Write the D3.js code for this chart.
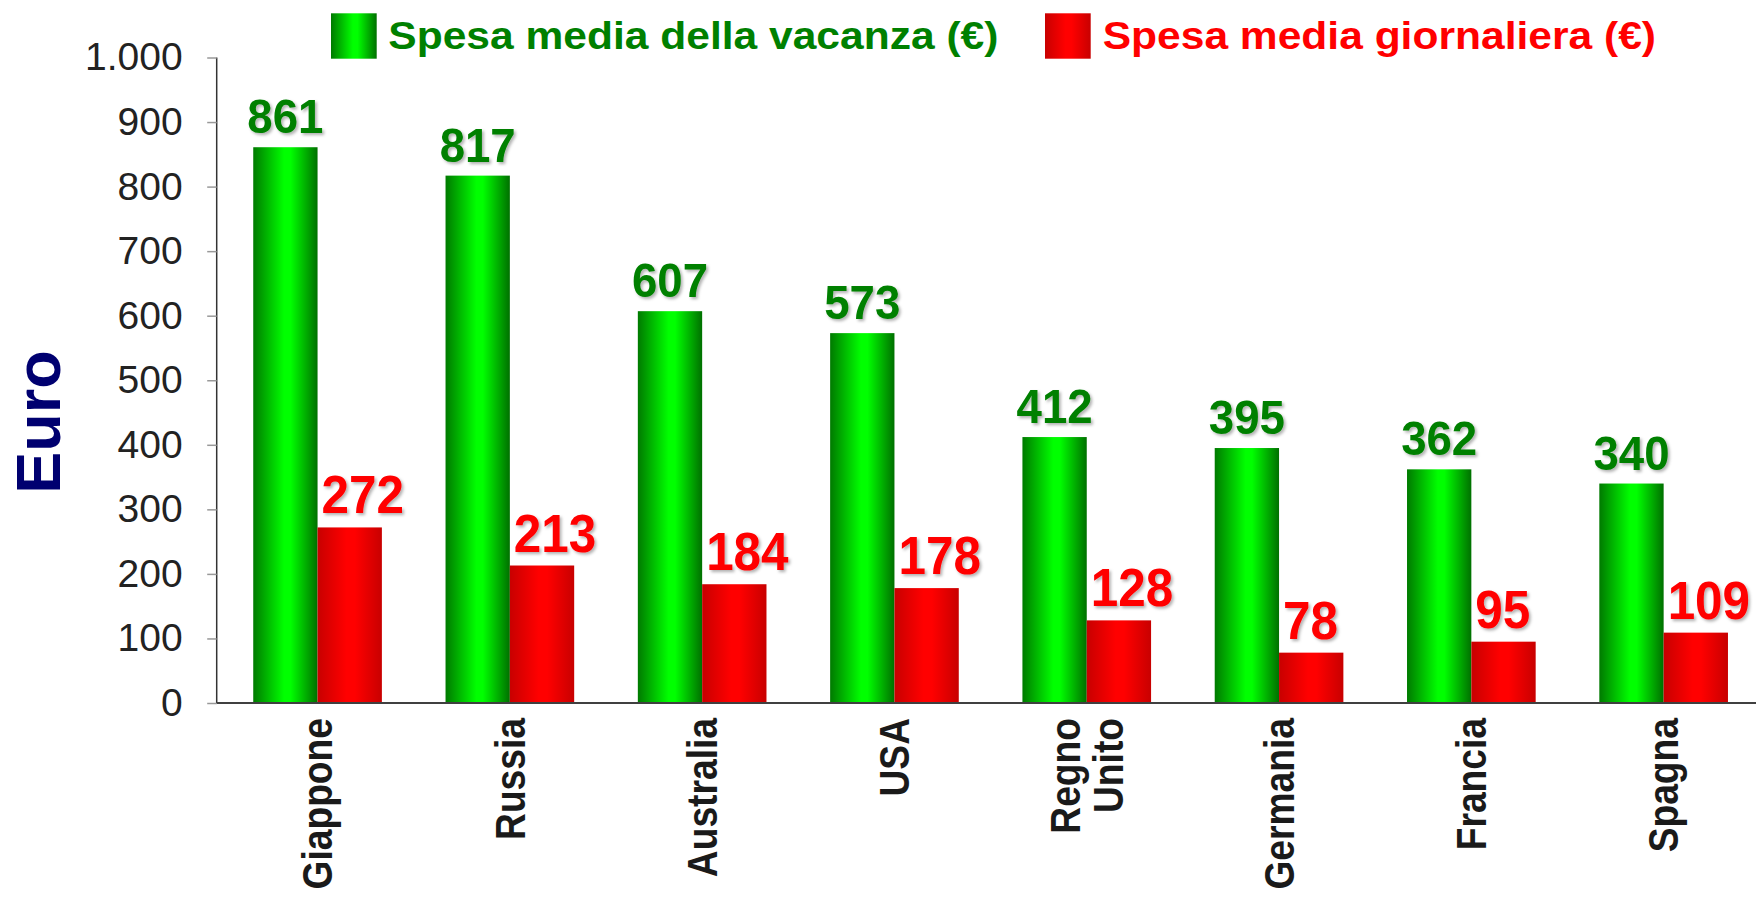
<!DOCTYPE html>
<html>
<head>
<meta charset="utf-8">
<script src="https://cdn.jsdelivr.net/npm/d3@7"></script>
<style>
  html, body { margin: 0; padding: 0; background: #ffffff; }
  svg { display: block; font-family: "Liberation Sans", Arial, Helvetica, sans-serif; }
</style>
</head>
<body>
<svg id="chart" width="1756" height="898"></svg>
<script>
// ---- data ----
const categories = ["Giappone", "Russia", "Australia", "USA", "Regno Unito", "Germania", "Francia", "Spagna"];
const spesaVacanza = [861, 817, 607, 573, 412, 395, 362, 340];
const spesaGiornaliera = [272, 213, 184, 178, 128, 78, 95, 109];
const seriesNames = ["Spesa media della vacanza (€)", "Spesa media giornaliera (€)"];
const yTicks = [0, 100, 200, 300, 400, 500, 600, 700, 800, 900, 1000];
const yTitle = "Euro";

// ---- setup ----
const svg = d3.select("#chart");
const W = 1756, H = 898;
const axisX = 216.7, baseY = 703, topY = 57.5;

const locale = d3.formatLocale({ decimal: ",", thousands: ".", grouping: [3], currency: ["€", ""] });
const fmt = locale.format(",d");

const y = d3.scaleLinear().domain([0, 1000]).range([baseY, topY]);
const x = d3.scaleBand().domain(categories)
  .range([axisX, 1764.5]).paddingInner(0.331).paddingOuter(0.19);
const xs = d3.scaleBand().domain([0, 1]).range([0, x.bandwidth()]);

// ---- defs ----
const defs = svg.append("defs");
function grad(id, stops) {
  const g = defs.append("linearGradient").attr("id", id)
    .attr("x1", "0%").attr("x2", "100%").attr("y1", "0%").attr("y2", "0%");
  stops.forEach(s => g.append("stop").attr("offset", s[0]).attr("stop-color", s[1]));
}
grad("gGreen", [["0%", "#007a00"], ["48%", "#00ff00"], ["58%", "#00ff00"], ["100%", "#007000"]]);
grad("gRed", [["0%", "#c80000"], ["45%", "#ff0000"], ["58%", "#ff0000"], ["100%", "#c80000"]]);
const f = defs.append("filter").attr("id", "shadow")
  .attr("x", "-20%").attr("y", "-20%").attr("width", "150%").attr("height", "150%");
f.append("feDropShadow").attr("dx", 2).attr("dy", 2).attr("stdDeviation", 1.5)
  .attr("flood-color", "#000").attr("flood-opacity", 0.3);

const fills = ["url(#gGreen)", "url(#gRed)"];
const labelColors = ["#008000", "#ff0000"];

// ---- bars ----
const groups = svg.append("g").selectAll("g").data(categories).join("g")
  .attr("transform", d => `translate(${x(d)},0)`);

groups.append("rect")
  .attr("x", xs(0)).attr("width", xs.bandwidth())
  .attr("y", (d, i) => y(spesaVacanza[i]))
  .attr("height", (d, i) => y(0) - y(spesaVacanza[i]))
  .attr("fill", fills[0]);

groups.append("rect")
  .attr("x", xs(1)).attr("width", xs.bandwidth())
  .attr("y", (d, i) => y(spesaGiornaliera[i]))
  .attr("height", (d, i) => y(0) - y(spesaGiornaliera[i]))
  .attr("fill", fills[1]);

// ---- value labels ----
groups.append("text")
  .attr("transform", (d, i) => `translate(${xs(0) + xs.bandwidth() / 2},${y(spesaVacanza[i]) - 14}) scale(0.97,1.04)`)
  .attr("text-anchor", "middle")
  .attr("font-weight", "bold").attr("font-size", 47)
  .attr("fill", labelColors[0]).attr("filter", "url(#shadow)")
  .text((d, i) => spesaVacanza[i]);

groups.append("text")
  .attr("transform", (d, i) => `translate(${xs(1) + 4},${y(spesaGiornaliera[i]) - 14}) scale(0.95,1.04)`)
  .attr("text-anchor", "start")
  .attr("font-weight", "bold").attr("font-size", 52)
  .attr("fill", labelColors[1]).attr("filter", "url(#shadow)")
  .text((d, i) => spesaGiornaliera[i]);

// ---- y axis ----
const yAxis = svg.append("g").attr("transform", `translate(${axisX},0)`)
  .call(d3.axisLeft(y).tickValues(yTicks).tickFormat(fmt).tickSize(9.5).tickPadding(24.5));
yAxis.select(".domain").attr("stroke", "#333").attr("stroke-width", 1.5)
  .attr("d", `M0,${y(1000)}V${y(0)}`);
yAxis.selectAll(".tick line").attr("stroke", "#999").attr("stroke-width", 1.5);
yAxis.selectAll(".tick text").attr("font-size", 39).attr("fill", "#222")
  .attr("font-family", "'Liberation Sans', Arial, sans-serif");

// ---- x axis ----
const xAxis = svg.append("g").attr("transform", `translate(0,${baseY})`)
  .call(d3.axisBottom(x).tickSize(0));
xAxis.select(".domain").attr("stroke", "#404040").attr("stroke-width", 2)
  .attr("d", `M${axisX},0H${W}`);
xAxis.selectAll(".tick text").each(function (d) {
  const t = d3.select(this);
  const lines = d.split(" ");
  const lh = 1.0;
  t.text(null)
    .attr("y", null).attr("dy", null)
    .attr("transform", "translate(0,15) rotate(-90) scale(0.93,1.06)")
    .attr("text-anchor", "end")
    .attr("font-size", 40).attr("font-weight", "bold").attr("fill", "#1a1a1a")
    .attr("font-family", "'Liberation Sans', Arial, sans-serif");
  lines.forEach((ln, k) => {
    t.append("tspan").attr("x", 0)
      .attr("dy", k === 0 ? `${0.35 - (lines.length - 1) * lh / 2}em` : `${lh}em`)
      .text(ln);
  });
});

// ---- y title ----
svg.append("text")
  .attr("transform", `translate(60,422) rotate(-90)`)
  .attr("text-anchor", "middle")
  .attr("font-size", 63).attr("font-weight", "bold").attr("fill", "#000070")
  .text(yTitle);

// ---- legend ----
const legendPos = [{ sx: 331, tx: 388.3 }, { sx: 1045, tx: 1102.7 }];
const legend = svg.append("g").selectAll("g").data(seriesNames).join("g");
legend.append("rect")
  .attr("x", (d, i) => legendPos[i].sx).attr("y", 13.3)
  .attr("width", 45.7).attr("height", 45.4)
  .attr("fill", (d, i) => fills[i]);
legend.append("text")
  .attr("transform", (d, i) => `translate(${legendPos[i].tx},49.3) scale(1.12,1)`)
  .attr("font-size", 38).attr("font-weight", "bold")
  .attr("fill", (d, i) => labelColors[i])
  .text(d => d);
</script>
</body>
</html>
